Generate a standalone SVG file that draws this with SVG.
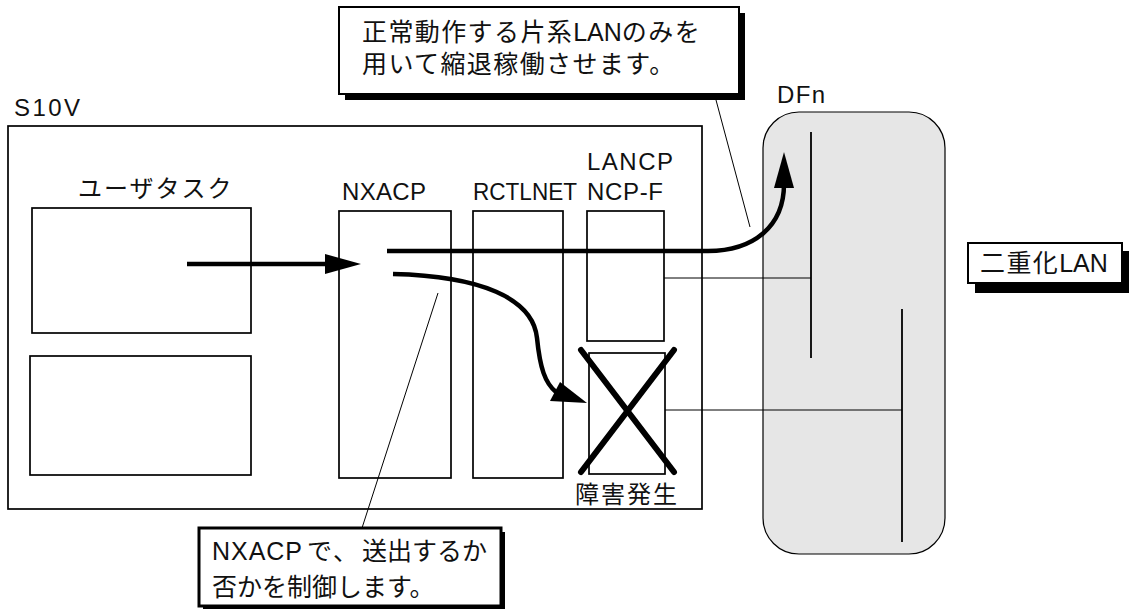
<svg xmlns="http://www.w3.org/2000/svg" width="1130" height="609" viewBox="0 0 1130 609">
<style>
text{font-family:"Liberation Sans","Noto Sans CJK JP",sans-serif;font-size:24px;fill:#111}
.cjk{font-size:24px;letter-spacing:2px}
.call{font-size:25px}
.box{fill:#fff;stroke:#000;stroke-width:1.7}
.shadow{fill:#000}
.thin{stroke:#000;stroke-width:1;fill:none}
.bus{stroke:#000;stroke-width:1.8;fill:none}
.flow{stroke:#000;stroke-width:4.5;fill:none}
</style>
<rect width="1130" height="609" fill="#fff"/>

<g id="dfn">
  <rect x="763" y="112" width="182" height="442" rx="36" ry="36" fill="#e6e6e6" stroke="#000" stroke-width="1.2"/>
  <text x="777" y="103" textLength="48" lengthAdjust="spacing">DFn</text>
  <line class="bus" x1="811" y1="132" x2="811" y2="358"/>
  <line class="bus" x1="902" y1="309" x2="902" y2="542"/>
</g>

<g id="s10v">
  <rect class="box" x="8" y="126" width="694" height="383" fill="none"/>
  <text x="14" y="116" textLength="66" lengthAdjust="spacing">S10V</text>
</g>

<g id="usertask">
  <text class="cjk" x="78" y="197">ユーザタスク</text>
  <rect class="box" x="32" y="208" width="219" height="125"/>
</g>
<g id="task2">
  <rect class="box" x="30" y="356" width="221" height="119"/>
</g>

<g id="nxacp">
  <text x="342" y="200" textLength="84" lengthAdjust="spacing">NXACP</text>
  <rect class="box" x="339" y="211" width="112" height="267"/>
</g>
<g id="rctlnet">
  <text x="473" y="200" textLength="104" lengthAdjust="spacingAndGlyphs">RCTLNET</text>
  <rect class="box" x="473" y="211" width="90" height="267"/>
</g>
<g id="lancp">
  <text x="587" y="170" textLength="86" lengthAdjust="spacing">LANCP</text>
  <text x="587" y="200" textLength="76" lengthAdjust="spacing">NCP-F</text>
  <rect class="box" x="587" y="211" width="77" height="130"/>
</g>
<g id="fault">
  <rect class="box" x="589" y="353" width="76" height="121"/>
  <line x1="581" y1="350" x2="674" y2="472" stroke="#000" stroke-width="6" stroke-linecap="round"/>
  <line x1="674" y1="350" x2="581" y2="472" stroke="#000" stroke-width="6" stroke-linecap="round"/>
  <text class="cjk" x="575" y="503">障害発生</text>
</g>

<g id="callout-top">
  <rect class="shadow" x="345" y="13" width="400" height="87"/>
  <rect x="339" y="7" width="400" height="87" fill="#fff" stroke="#000" stroke-width="2"/>
  <text class="call" x="362" y="41"><tspan letter-spacing="1.4">正常動作する片系</tspan><tspan>LAN</tspan><tspan letter-spacing="1.4">のみを</tspan></text>
  <text class="call" x="362" y="73" letter-spacing="1.4">用いて縮退稼働させます。</text>
</g>

<g id="callout-lan">
  <rect class="shadow" x="975" y="251" width="154" height="42"/>
  <rect x="968" y="243" width="154" height="40" fill="#fff" stroke="#000" stroke-width="2"/>
  <text class="call" x="980" y="272"><tspan letter-spacing="1.4">二重化</tspan><tspan>LAN</tspan></text>
</g>

<g id="callout-bottom">
  <rect class="shadow" x="203" y="532" width="302" height="78"/>
  <rect x="199" y="528" width="302" height="78" fill="#fff" stroke="#000" stroke-width="3"/>
  <text class="call" x="212" y="560" textLength="90" lengthAdjust="spacing">NXACP</text>
  <text class="call" x="307" y="560">で</text>
  <text class="call" x="333" y="560">、</text>
  <text class="call" x="362" y="560">送出するか</text>
  <text class="call" x="212" y="596">否かを制御します。</text>
</g>

<g id="connectors">
  <line class="thin" x1="664" y1="278" x2="811" y2="278"/>
  <line class="thin" x1="665" y1="410" x2="902" y2="410" stroke-width="1.4"/>
  <line class="thin" x1="716" y1="100" x2="750" y2="227"/>
  <line class="thin" x1="438" y1="293" x2="362" y2="528"/>
  <line class="flow" x1="187" y1="264" x2="328" y2="264"/>
  <polygon points="361,264 325,254 325,274" fill="#000"/>
  <path class="flow" d="M387,251 L708,251 C754,251 784,226 784,184"/>
  <polygon points="784,152 774,188 794,188" fill="#000"/>
  <path class="flow" d="M393,274 C480,276 533,298 537,338 C540,368 545,383 556,392"/>
  <polygon points="587,403 550,401 560,382" fill="#000"/>
</g>
</svg>
